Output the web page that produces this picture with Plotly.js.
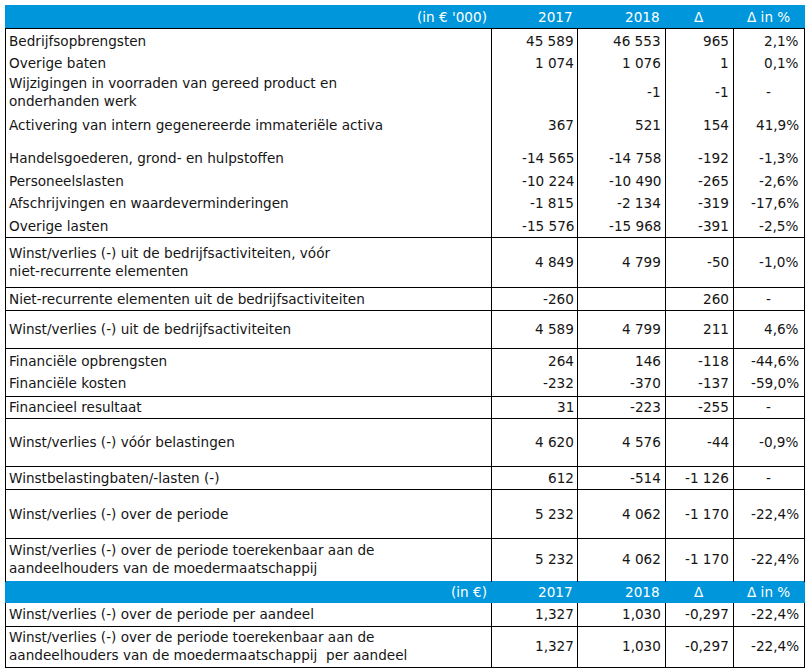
<!DOCTYPE html>
<html>
<head>
<meta charset="utf-8">
<script src="https://cdn.plot.ly/plotly-3.0.1.min.js"></script>
<style>html,body{margin:0;padding:0;background:#fff;}#chart{width:807px;height:671px;}</style>
</head>
<body>
<div id="chart"></div>
<script>
// ---------- DATA ----------
const headerUnit1 = "(in € '000)";
const headerUnit2 = "(in €)";
const columnHeaders = ["2017", "2018", "Δ", "Δ in %"];

const labels = [
  "Bedrijfsopbrengsten",
  "Overige baten",
  "Wijzigingen in voorraden van gereed product en<br>onderhanden werk",
  "Activering van intern gegenereerde immateriële activa",
  "Handelsgoederen, grond- en hulpstoffen",
  "Personeelslasten",
  "Afschrijvingen en waardeverminderingen",
  "Overige lasten",
  "Winst/verlies (-) uit de bedrijfsactiviteiten, vóór<br>niet-recurrente elementen",
  "Niet-recurrente elementen uit de bedrijfsactiviteiten",
  "Winst/verlies (-) uit de bedrijfsactiviteiten",
  "Financiële opbrengsten",
  "Financiële kosten",
  "Financieel resultaat",
  "Winst/verlies (-) vóór belastingen",
  "Winstbelastingbaten/-lasten (-)",
  "Winst/verlies (-) over de periode",
  "Winst/verlies (-) over de periode toerekenbaar aan de<br>aandeelhouders van de moedermaatschappij"
];
const values2017 = [45589, 1074, null, 367, -14565, -10224, -1815, -15576, 4849, -260, 4589, 264, -232, 31, 4620, 612, 5232, 5232];
const values2018 = [46553, 1076, -1, 521, -14758, -10490, -2134, -15968, 4799, null, 4799, 146, -370, -223, 4576, -514, 4062, 4062];
const delta      = [965, 1, -1, 154, -192, -265, -319, -391, -50, 260, 211, -118, -137, -255, -44, -1126, -1170, -1170];
const deltaPct   = [2.1, 0.1, null, 41.9, -1.3, -2.6, -17.6, -2.5, -1.0, null, 4.6, -44.6, -59.0, null, -0.9, null, -22.4, -22.4];

const shareLabels = [
  "Winst/verlies (-) over de periode per aandeel",
  "Winst/verlies (-) over de periode toerekenbaar aan de<br>aandeelhouders van de moedermaatschappij  per aandeel"
];
const share2017 = [1.327, 1.327];
const share2018 = [1.030, 1.030];
const shareDelta = [-0.297, -0.297];
const shareDeltaPct = [-22.4, -22.4];

// ---------- LAYOUT CONSTANTS ----------
const rowY = [41, 63, 92, 125, 158, 181, 203, 226, 262, 299, 329, 361, 383, 407, 442, 478, 514, 559];
const shareRowY = [614, 646];
const header1 = {top: 5, bottom: 28, y: 17};
const header2 = {top: 581, bottom: 603, y: 592};
const hLines = [28, 237, 287, 310, 348, 396, 418, 466, 489, 538, 626, 667];
const vLines = [5, 491, 577, 665, 733, 804];
const tableLeft = 5, tableRight = 804, tableBottom = 667;
const labelX = 8;
const colRight = [575, 662, 730, 800];
const colCenter = [534, 621, 699, 768];
const headerRight = [488, 574, 661];
const blue = "rgb(0,150,219)";
const textColor = "#151515";
const FONT = "DejaVu Sans, Verdana, sans-serif";
const FS = 13.6;

// ---------- FORMATTERS ----------
function fmtInt(v) {
  if (v === null || v === undefined) return "";
  const s = Math.abs(v).toString().replace(/\B(?=(\d{3})+(?!\d))/g, " ");
  return (v < 0 ? "-" : "") + s;
}
function fmtDec(v, d) {
  if (v === null || v === undefined) return "";
  return (v < 0 ? "-" : "") + Math.abs(v).toFixed(d).replace(".", ",");
}
function fmtPct(v) {
  if (v === null || v === undefined) return "-";
  return fmtDec(v, 1) + "%";
}

// ---------- BUILD ----------
const annotations = [];
const shapes = [];
function addText(x, y, text, anchor, color) {
  annotations.push({
    x: x, y: y, xref: "x", yref: "y", text: text, showarrow: false,
    xanchor: anchor, yanchor: "middle", align: anchor === "right" ? "right" : (anchor === "center" ? "center" : "left"),
    borderpad: 0, font: {family: FONT, size: FS, color: color}
  });
}

// header bands
[header1, header2].forEach(h => {
  shapes.push({type: "rect", xref: "x", yref: "y", x0: tableLeft, x1: tableRight + 1, y0: h.top, y1: h.bottom,
    fillcolor: blue, line: {width: 0}, layer: "below"});
});
// header text
[[header1, headerUnit1], [header2, headerUnit2]].forEach(([h, unit]) => {
  addText(headerRight[0], h.y, unit, "right", "white");
  addText(headerRight[1], h.y, columnHeaders[0], "right", "white");
  addText(headerRight[2], h.y, columnHeaders[1], "right", "white");
  addText(colCenter[2], h.y, columnHeaders[2], "center", "white");
  addText(colCenter[3], h.y, columnHeaders[3], "center", "white");
});

// grid lines
hLines.forEach(y => {
  shapes.push({type: "line", xref: "x", yref: "y", x0: tableLeft, x1: tableRight + 1, y0: y + 0.5, y1: y + 0.5,
    line: {color: "#000", width: 1}});
});
vLines.forEach(x => {
  [[header1.bottom, header2.top], [header2.bottom, tableBottom]].forEach(([a, b]) => {
    shapes.push({type: "line", xref: "x", yref: "y", x0: x + 0.5, x1: x + 0.5, y0: a, y1: b + 1,
      line: {color: "#000", width: 1}});
  });
});

// body rows
function addRow(y, label, a, b, d, p, fmt) {
  addText(labelX, y, label, "left", textColor);
  addText(colRight[0], y, fmt(a), "right", textColor);
  addText(colRight[1], y, fmt(b), "right", textColor);
  addText(colRight[2], y, fmt(d), "right", textColor);
  if (p === null) addText(colCenter[3], y, "-", "center", textColor);
  else addText(colRight[3], y, fmtPct(p), "right", textColor);
}
labels.forEach((lab, i) => addRow(rowY[i], lab, values2017[i], values2018[i], delta[i], deltaPct[i], fmtInt));
shareLabels.forEach((lab, i) => addRow(shareRowY[i], lab, share2017[i], share2018[i], shareDelta[i], shareDeltaPct[i], v => fmtDec(v, 3)));

const layout = {
  width: 807, height: 671,
  margin: {l: 0, r: 0, t: 0, b: 0},
  paper_bgcolor: "white", plot_bgcolor: "white",
  xaxis: {range: [0, 807], visible: false, fixedrange: true},
  yaxis: {range: [671, 0], visible: false, fixedrange: true},
  showlegend: false,
  shapes: shapes,
  annotations: annotations
};
Plotly.newPlot("chart", [{x: [], y: [], type: "scatter", mode: "markers", hoverinfo: "skip"}], layout, {displayModeBar: false, staticPlot: true});
</script>
</body>
</html>
